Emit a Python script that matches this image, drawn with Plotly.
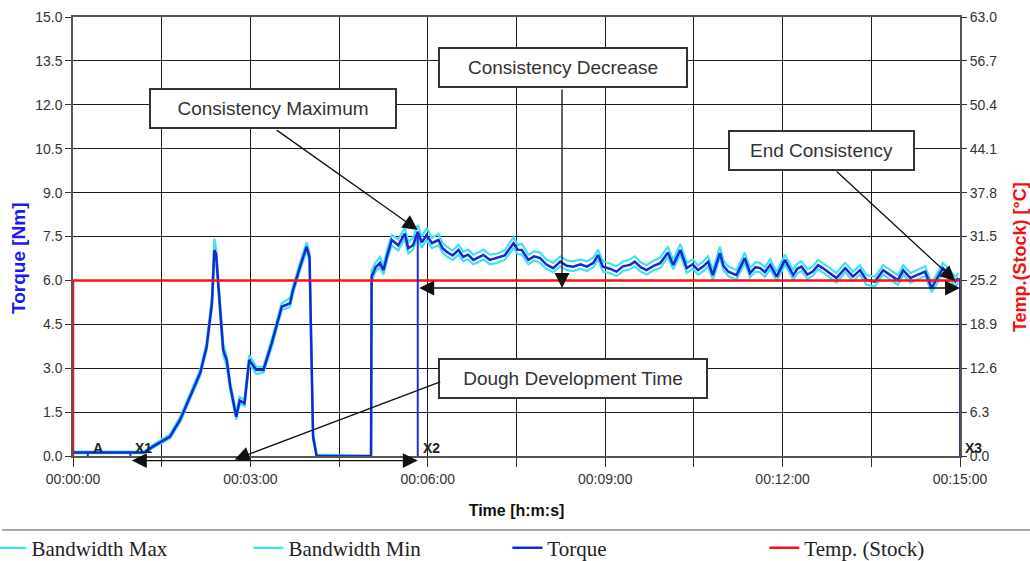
import plotly.graph_objects as go

# ---------------- data ----------------
time_min = [0.00, 1.20, 1.35, 1.64, 1.81, 1.98, 2.15, 2.26, 2.35, 2.39, 2.42, 2.46, 2.54, 2.60, 2.66, 2.76,
            2.82, 2.90, 2.98, 3.10, 3.22, 3.36, 3.44, 3.53, 3.67, 3.72, 3.84, 3.95, 4.00, 4.06, 4.12, 5.04,
            5.05, 5.12, 5.19, 5.25, 5.32, 5.39, 5.50, 5.61, 5.67, 5.75, 5.83, 5.90, 5.98, 6.07, 6.18, 6.25,
            6.32, 6.42, 6.52, 6.60, 6.68, 6.77, 6.85, 6.94, 7.05, 7.17, 7.30, 7.45, 7.52, 7.59, 7.70, 7.80,
            7.90, 8.00, 8.12, 8.24, 8.35, 8.46, 8.58, 8.69, 8.80, 8.88, 8.96, 9.08, 9.19, 9.30, 9.42, 9.50,
            9.60, 9.70, 9.82, 9.93, 10.06, 10.15, 10.27, 10.38, 10.48, 10.57, 10.66, 10.74, 10.82, 10.94, 11.00, 11.08,
            11.22, 11.36, 11.45, 11.54, 11.62, 11.70, 11.79, 11.90, 12.04, 12.18, 12.25, 12.32, 12.42, 12.51, 12.60, 12.68,
            12.80, 12.91, 13.06, 13.19, 13.31, 13.42, 13.56, 13.70, 13.82, 13.95, 14.04, 14.16, 14.27, 14.41, 14.52, 14.60,
            14.71, 14.83, 14.92, 14.97]

torque = [0.12, 0.12, 0.32, 0.66, 1.23, 2.03, 2.83, 3.73, 5.22, 7.04, 6.90, 5.78, 3.62, 3.28, 2.37, 1.34,
          1.90, 1.80, 3.28, 2.94, 2.94, 3.85, 4.42, 5.10, 5.22, 5.67, 6.47, 7.15, 6.80, 0.66, 0.00, 0.00,
          6.13, 6.45, 6.60, 6.35, 6.90, 7.38, 7.20, 7.60, 7.10, 7.20, 7.66, 7.30, 7.55, 7.27, 7.38, 7.10,
          6.98, 6.85, 7.04, 6.80, 6.88, 6.70, 6.78, 6.87, 6.70, 6.76, 6.85, 7.27, 7.05, 7.04, 6.70, 6.82,
          6.76, 6.55, 6.42, 6.64, 6.50, 6.47, 6.55, 6.47, 6.60, 6.87, 6.47, 6.40, 6.30, 6.48, 6.53, 6.64,
          6.45, 6.35, 6.50, 6.59, 6.95, 6.53, 7.04, 6.42, 6.55, 6.35, 6.48, 6.64, 6.18, 6.93, 6.50, 6.30,
          6.18, 6.76, 6.25, 6.45, 6.42, 6.28, 6.53, 6.13, 6.70, 6.18, 6.40, 6.47, 6.20, 6.30, 6.52, 6.42,
          6.25, 6.08, 6.42, 6.13, 6.35, 6.01, 5.96, 6.35, 6.18, 6.01, 6.35, 6.08, 6.18, 6.30, 5.74, 6.01,
          6.42, 6.18, 5.96, 6.08]

bandwidth_max = [0.15, 0.15, 0.38, 0.74, 1.33, 2.12, 2.95, 3.88, 5.45, 7.42, 7.10, 5.95, 3.85, 3.40, 2.50, 1.50,
                 2.02, 1.92, 3.45, 3.05, 3.05, 3.98, 4.60, 5.22, 5.40, 5.80, 6.62, 7.30, 6.95, 0.80, 0.05, 0.00,
                 6.35, 6.62, 6.80, 6.52, 7.10, 7.55, 7.40, 7.80, 7.30, 7.45, 7.90, 7.50, 7.80, 7.45, 7.60, 7.28,
                 7.15, 7.02, 7.22, 6.98, 7.05, 6.88, 6.95, 7.05, 6.88, 6.92, 7.02, 7.48, 7.22, 7.25, 6.88, 7.00,
                 6.95, 6.72, 6.60, 6.82, 6.68, 6.65, 6.72, 6.65, 6.78, 7.05, 6.65, 6.58, 6.48, 6.65, 6.72, 6.82,
                 6.62, 6.52, 6.68, 6.78, 7.15, 6.70, 7.25, 6.60, 6.72, 6.52, 6.65, 6.82, 6.35, 7.15, 6.68, 6.48,
                 6.35, 6.95, 6.42, 6.62, 6.60, 6.45, 6.72, 6.30, 6.88, 6.35, 6.58, 6.65, 6.38, 6.48, 6.70, 6.60,
                 6.42, 6.25, 6.60, 6.30, 6.52, 6.18, 6.12, 6.52, 6.35, 6.18, 6.52, 6.25, 6.35, 6.48, 5.92, 6.18,
                 6.60, 6.35, 6.12, 6.25]

bandwidth_min = [0.10, 0.10, 0.28, 0.60, 1.15, 1.95, 2.74, 3.62, 5.10, 6.90, 6.75, 5.62, 3.45, 3.05, 2.25, 1.25,
                 1.80, 1.70, 3.15, 2.80, 2.85, 3.72, 4.30, 4.98, 5.10, 5.55, 6.35, 7.02, 6.65, 0.55, 0.00, 0.00,
                 5.98, 6.30, 6.45, 6.20, 6.75, 7.20, 7.02, 7.42, 6.92, 7.05, 7.50, 7.12, 7.38, 7.10, 7.20, 6.95,
                 6.82, 6.70, 6.88, 6.65, 6.72, 6.55, 6.62, 6.72, 6.55, 6.60, 6.70, 7.10, 6.90, 6.88, 6.55, 6.68,
                 6.60, 6.40, 6.28, 6.48, 6.35, 6.32, 6.40, 6.32, 6.45, 6.72, 6.30, 6.25, 6.15, 6.32, 6.38, 6.48,
                 6.30, 6.20, 6.35, 6.42, 6.80, 6.38, 6.88, 6.25, 6.40, 6.20, 6.32, 6.48, 6.02, 6.78, 6.35, 6.15,
                 6.02, 6.60, 6.10, 6.30, 6.28, 6.12, 6.38, 5.98, 6.55, 6.02, 6.25, 6.32, 6.05, 6.15, 6.38, 6.28,
                 6.10, 5.92, 6.28, 5.98, 6.20, 5.85, 5.80, 6.20, 6.02, 5.85, 6.20, 5.92, 6.02, 6.15, 5.60, 5.85,
                 6.28, 6.02, 5.80, 5.92]

temp_time = [0.0, 0.0, 15.0]
temp_stock = [0.0, 25.2, 25.2]

marker_names = ["A", "X1", "X2", "X3"]
marker_times = [0.25, 0.97, 5.83, 15.0]
marker_heights = [0.12, 0.12, 7.66, 6.08]

x_tickvals = [0, 1.5, 3, 4.5, 6, 7.5, 9, 10.5, 12, 13.5, 15]
x_ticktext = ["00:00:00", "", "00:03:00", "", "00:06:00", "", "00:09:00", "", "00:12:00", "", "00:15:00"]
y_tickvals = [0, 1.5, 3, 4.5, 6, 7.5, 9, 10.5, 12, 13.5, 15]
y_ticktext = ["0.0", "1.5", "3.0", "4.5", "6.0", "7.5", "9.0", "10.5", "12.0", "13.5", "15.0"]
y2_tickvals = [0, 6.3, 12.6, 18.9, 25.2, 31.5, 37.8, 44.1, 50.4, 56.7, 63.0]
y2_ticktext = ["0.0", "6.3", "12.6", "18.9", "25.2", "31.5", "37.8", "44.1", "50.4", "56.7", "63.0"]

# ---------------- styles ----------------
SANS = "Liberation Sans, Arial, sans-serif"
SERIF = "Liberation Serif, Times New Roman, serif"
CYAN = "#3fe3ee"
BLUE = "#1428d8"
MARK_BLUE = "#2b2bdd"
RED = "#ff1010"
GRID = "#1a1a1a"

fig = go.Figure()

fig.add_trace(go.Scatter(x=temp_time, y=temp_stock, yaxis="y2", mode="lines",
                         line=dict(color=RED, width=2.5), name="Temp. (Stock)",
                         legend="legend2", legendrank=4))
fig.add_trace(go.Scatter(x=time_min, y=bandwidth_max, mode="lines",
                         line=dict(color=CYAN, width=2.2), name="Bandwidth Max",
                         legend="legend", legendrank=1))
fig.add_trace(go.Scatter(x=time_min, y=bandwidth_min, mode="lines",
                         line=dict(color=CYAN, width=2.2), name="Bandwidth Min",
                         legend="legend", legendrank=2))
fig.add_trace(go.Scatter(x=time_min, y=torque, mode="lines",
                         line=dict(color=BLUE, width=2.5), name="Torque",
                         legend="legend2", legendrank=3))

shapes = []
for t, h in zip(marker_times, marker_heights):
    shapes.append(dict(type="line", xref="x", yref="y", x0=t, x1=t, y0=0, y1=h,
                       line=dict(color=MARK_BLUE, width=2)))
# separator line above the legend
shapes.append(dict(type="line", xref="paper", yref="paper", x0=-0.08, x1=1.08, y0=-0.1686, y1=-0.1686,
                   line=dict(color="#aaaaaa", width=2)))

annotations = []
for name, t in zip(marker_names, marker_times):
    annotations.append(dict(x=t, y=0.27, xref="x", yref="y", text=name, showarrow=False,
                            xanchor="left", yanchor="middle", xshift=3,
                            font=dict(family=SANS, size=14, color="#222222", weight="bold")))

# axis titles placed as in the original
annotations.append(dict(text="Torque [Nm]", x=-0.062, y=0.451, xref="paper", yref="paper",
                        showarrow=False, textangle=-90, xanchor="center", yanchor="middle",
                        font=dict(family=SANS, size=19, color="#1a1aee", weight="bold")))
annotations.append(dict(text="Temp.(Stock) [°C]", x=1.0676, y=0.453, xref="paper", yref="paper",
                        showarrow=False, textangle=-90, xanchor="center", yanchor="middle",
                        font=dict(family=SANS, size=18, color="#ee1111", weight="bold")))

box_style = dict(showarrow=False, bordercolor="#333333", borderwidth=2, borderpad=2,
                 bgcolor="white", font=dict(family=SANS, size=19, color="#333333"),
                 xref="x", yref="y", height=33)
annotations.append(dict(text="Consistency Maximum", x=3.38, y=11.87, width=240, **box_style))
annotations.append(dict(text="Consistency Decrease", x=8.29, y=13.27, width=242, **box_style))
annotations.append(dict(text="Dough Development Time", x=8.46, y=2.66, width=262, **box_style))
annotations.append(dict(text="End Consistency", x=12.66, y=10.45, width=179, **box_style))

arrow_style = dict(text="", showarrow=True, arrowcolor="#111111", arrowwidth=1.3,
                   arrowhead=2, arrowsize=2.3)
# Consistency Maximum pointer
annotations.append(dict(x=5.83, y=7.72, xref="x", yref="y", axref="x", ayref="y",
                        ax=3.42, ay=11.17, **arrow_style))
# Consistency Decrease pointer (down)
annotations.append(dict(x=8.27, y=5.74, xref="x", yref="y", axref="x", ayref="y",
                        ax=8.27, ay=12.57, **arrow_style))
# End Consistency pointer
annotations.append(dict(x=14.92, y=5.98, xref="x", yref="y", axref="x", ayref="y",
                        ax=12.89, ay=9.77, **arrow_style))
# Dough Development Time pointer (arrowhead at tail, below axis)
annotations.append(dict(x=6.21, y=2.53, xref="x", yref="y", axref="x", ayref="y",
                        ax=2.71, ay=-0.14, arrowside="start", startarrowhead=2, startarrowsize=2.3,
                        **arrow_style))
# Consistency Decrease span (X2 -> X3)
annotations.append(dict(x=marker_times[3], y=5.74, xref="x", yref="y", axref="x", ayref="y",
                        ax=marker_times[2], ay=5.74, arrowside="end+start", startarrowhead=2,
                        startarrowsize=2.3, **arrow_style))
# Dough Development span (X1 -> X2), just under the time axis
annotations.append(dict(x=marker_times[2], y=-0.0105, xref="x", yref="paper", axref="x", ayref="pixel",
                        ax=marker_times[1], ay=0, arrowside="end+start", startarrowhead=2,
                        startarrowsize=2.3, **arrow_style))

legend_common = dict(orientation="h", xanchor="left", y=-0.21, yanchor="middle",
                     font=dict(family=SERIF, size=21, color="#222222"),
                     entrywidth=212, entrywidthmode="pixels", itemwidth=30,
                     bgcolor="rgba(0,0,0,0)", traceorder="normal")

fig.update_layout(
    width=1030, height=561,
    margin=dict(l=73, r=70, t=17, b=105, autoexpand=False),
    paper_bgcolor="white", plot_bgcolor="white",
    showlegend=True,
    legend=dict(x=-0.092, **legend_common),
    legend2=dict(x=0.4897, **legend_common),
    xaxis=dict(range=[0, 15], tickmode="array", tickvals=x_tickvals, ticktext=x_ticktext,
               showgrid=True, gridcolor=GRID, gridwidth=1.2, zeroline=False,
               showline=True, linecolor="#555555", linewidth=1.5, mirror=True,
               ticks="outside", ticklen=9, tickcolor="#333333", tickwidth=1.2,
               tickfont=dict(family=SANS, size=14, color="#333333"),
               title=dict(text="Time [h:m:s]", standoff=19,
                          font=dict(family=SANS, size=16, color="#111111", weight="bold"))),
    yaxis=dict(range=[0, 15], tickmode="array", tickvals=y_tickvals, ticktext=y_ticktext,
               showgrid=True, gridcolor=GRID, gridwidth=1.2, zeroline=False,
               showline=True, linecolor="#555555", linewidth=1.5, mirror=True,
               ticks="outside", ticklen=6, tickcolor="#333333", tickwidth=1.2,
               tickfont=dict(family=SANS, size=14, color="#333333")),
    yaxis2=dict(range=[0, 63], overlaying="y", side="right", tickmode="array",
                tickvals=y2_tickvals, ticktext=y2_ticktext, showgrid=False, zeroline=False,
                ticks="outside", ticklen=6, tickcolor="#333333", tickwidth=1.2,
                tickfont=dict(family=SANS, size=14, color="#333333")),
    shapes=shapes,
    annotations=annotations,
)

fig.write_html("out.html", config={"displayModeBar": False},
               post_script="document.body.style.margin='0';")
